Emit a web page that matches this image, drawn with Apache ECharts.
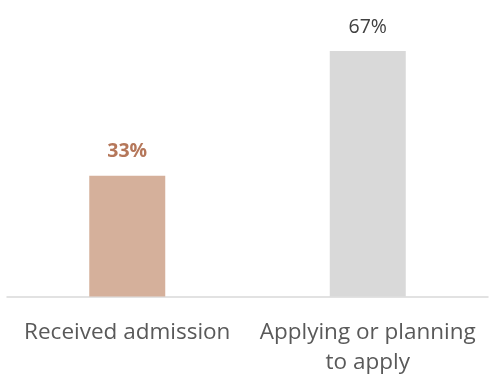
<!DOCTYPE html>
<html>
<head>
<meta charset="utf-8">
<script src="https://cdn.jsdelivr.net/npm/echarts@6/dist/echarts.min.js"></script>
<style>
  html, body { margin: 0; padding: 0; background: #fff; }
  #chart { width: 490px; height: 385px; }
</style>
</head>
<body>
<div id="chart"></div>
<script>
// Admission status shares
const categories = ['Received admission', 'Applying or planning\nto apply'];
const shares = [33, 67];
const barColors = ['#d5b09b', '#d9d9d9'];
const labelColors = ['#b5775a', '#404040'];
const labelWeights = ['bold', 'normal'];

const chart = echarts.init(document.getElementById('chart'), null, { renderer: 'canvas' });

chart.setOption({
  animation: false,
  grid: { left: 7, right: 2, top: 3.5, bottom: 88.5, containLabel: false },
  xAxis: {
    type: 'category',
    data: categories,
    axisLine: { show: true, lineStyle: { color: '#d9d9d9', width: 1.5 } },
    axisTick: { show: false },
    axisLabel: {
      interval: 0,
      margin: 21,
      color: '#595959',
      fontFamily: 'Open Sans',
      fontSize: 22.5,
      lineHeight: 30,
      align: 'center'
    }
  },
  yAxis: {
    type: 'value',
    min: 0,
    max: 80,
    show: false,
    splitLine: { show: false }
  },
  series: [{
    type: 'bar',
    barWidth: 76,
    data: shares.map((v, i) => ({
      value: v,
      itemStyle: { color: barColors[i] },
      label: { color: labelColors[i], fontWeight: labelWeights[i] }
    })),
    label: {
      show: true,
      position: 'top',
      distance: 14,
      formatter: '{c}%',
      fontFamily: 'Open Sans',
      fontSize: 19.5
    }
  }]
});
</script>
</body>
</html>
